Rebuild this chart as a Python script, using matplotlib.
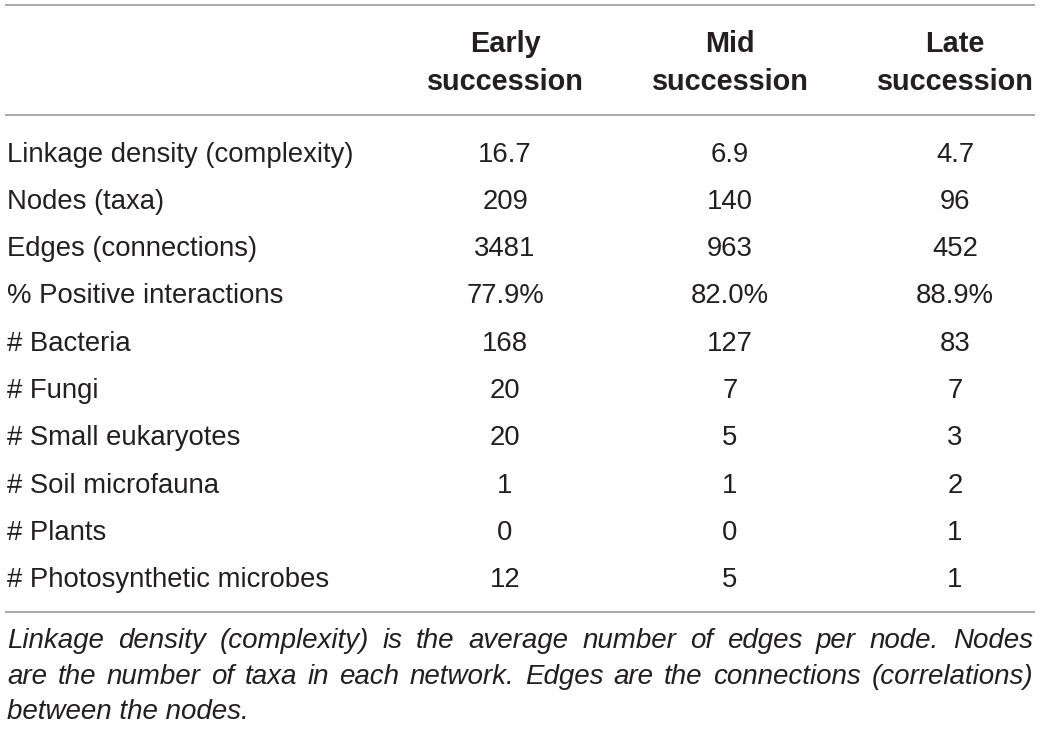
import matplotlib
matplotlib.use("Agg")
import matplotlib.pyplot as plt

# table content
columns = ["Early\nsuccession", "Mid\nsuccession", "Late\nsuccession"]
row_labels = [
    "Linkage density (complexity)",
    "Nodes (taxa)",
    "Edges (connections)",
    "% Positive interactions",
    "# Bacteria",
    "# Fungi",
    "# Small eukaryotes",
    "# Soil microfauna",
    "# Plants",
    "# Photosynthetic microbes",
]
early = ["16.7", "209", "3481", "77.9%", "168", "20", "20", "1", "0", "12"]
mid = ["6.9", "140", "963", "82.0%", "127", "7", "5", "1", "0", "5"]
late = ["4.7", "96", "452", "88.9%", "83", "7", "3", "2", "1", "1"]
caption_lines = [
    "Linkage density (complexity) is the average number of edges per node. Nodes",
    "are the number of taxa in each network. Edges are the connections (correlations)",
    "between the nodes.",
]

W, H = 1040, 731
fig = plt.figure(figsize=(W / 100, H / 100), dpi=100)
ax = fig.add_axes([0, 0, 1, 1])
ax.set_xlim(0, W)
ax.set_ylim(H, 0)
ax.axis("off")

font = "Liberation Sans"
fs = 19.8
head_fs = 20.8
line_col = "#a3a3a3"
txt_col = "#231f20"

# rules
for y in [5, 115, 612]:
    ax.plot([5, 1035], [y, y], color=line_col, lw=1.3, solid_capstyle="butt")

# header (two lines each)
col_x = [505, 730, 955]
for cx, name in zip(col_x, columns):
    for j, part in enumerate(name.split("\n")):
        ax.text(cx, 52 + j * 38.3, part, ha="center", va="baseline", fontsize=head_fs,
                fontweight="bold", family=font, color=txt_col)

# rows
row_y0, row_step = 161.5, 47.3
for i, lab in enumerate(row_labels):
    y = row_y0 + i * row_step
    ax.text(7, y, lab, ha="left", va="baseline", fontsize=fs, family=font, color=txt_col)
    for cx, vals in zip(col_x, [early, mid, late]):
        ax.text(cx, y, vals[i], ha="center", va="baseline", fontsize=fs, family=font, color=txt_col)

# caption, justified between the rule ends
fig.canvas.draw()
renderer = fig.canvas.get_renderer()
left, right = 7, 1033
cap_fs = 20.0
for line in caption_lines[:2]:
    t = ax.text(0, 0, line, fontsize=18.0, family=font, style="italic")
    w = t.get_window_extent(renderer).width
    t.remove()
    cap_fs = min(cap_fs, 18.0 * (right - left) / w * 0.975)

cap_y = [648, 684, 719]
for k, (line, y) in enumerate(zip(caption_lines, cap_y)):
    words = line.split(" ")
    if k == len(caption_lines) - 1:
        ax.text(left, y, line, ha="left", va="baseline", fontsize=cap_fs, family=font,
                style="italic", color=txt_col)
        continue
    arts = [ax.text(0, y, w, ha="left", va="baseline", fontsize=cap_fs, family=font,
                    style="italic", color=txt_col) for w in words]
    widths = [a.get_window_extent(renderer).width for a in arts]
    gap = (right - left - sum(widths)) / (len(words) - 1)
    x = left
    for a, w in zip(arts, widths):
        a.set_x(x)
        x += w + gap

fig.savefig("out.png", dpi=100)
